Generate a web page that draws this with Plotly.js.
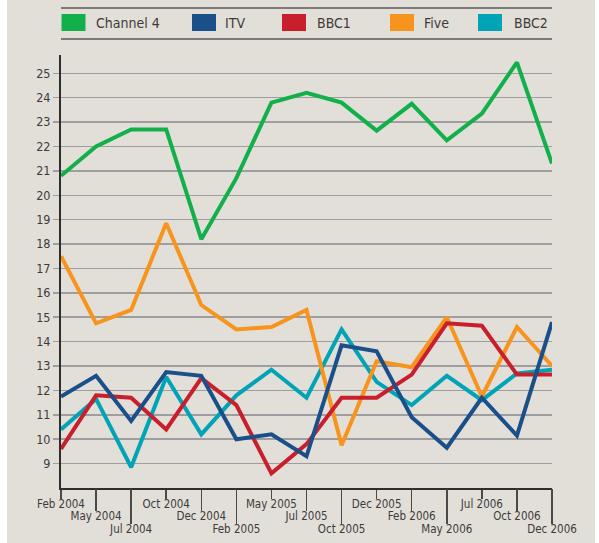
<!DOCTYPE html>
<html>
<head>
<meta charset="utf-8">
<script src="https://cdn.plot.ly/plotly-3.0.1.min.js"></script>
<style>
  html, body { margin: 0; padding: 0; background: #ffffff; }
  #chart { position: absolute; left: 7px; top: 0; width: 588px; height: 543px; }
</style>
</head>
<body>
<div id="chart"></div>
<script>
// Audience share by channel, Feb 2004 - Dec 2006
const months = ['Feb 2004', 'May 2004', 'Jul 2004', 'Oct 2004', 'Dec 2004', 'Feb 2005', 'May 2005', 'Jul 2005',
                'Oct 2005', 'Dec 2005', 'Feb 2006', 'May 2006', 'Jul 2006', 'Oct 2006', 'Dec 2006'];
const channel4 = [20.8, 22.0, 22.7, 22.7, 18.2, 20.7, 23.8, 24.2, 23.8, 22.65, 23.75, 22.25, 23.35, 25.45, 21.3];
const itv      = [11.75, 12.6, 10.75, 12.75, 12.6, 10.0, 10.2, 9.3, 13.85, 13.6, 10.9, 9.65, 11.7, 10.15, 14.8];
const bbc1     = [9.6, 11.8, 11.7, 10.4, 12.5, 11.4, 8.6, 9.8, 11.7, 11.7, 12.65, 14.75, 14.65, 12.65, 12.65];
const five     = [17.5, 14.75, 15.3, 18.85, 15.5, 14.5, 14.6, 15.3, 9.75, 13.2, 12.95, 15.0, 11.75, 14.6, 13.0];
const bbc2     = [10.4, 11.65, 8.85, 12.55, 10.2, 11.8, 12.85, 11.7, 14.5, 12.35, 11.4, 12.6, 11.6, 12.7, 12.85];
const yTicks = [9, 10, 11, 12, 13, 14, 15, 16, 17, 18, 19, 20, 21, 22, 23, 24, 25];

const seriesNames = ['Channel 4', 'ITV', 'BBC1', 'Five', 'BBC2'];
const seriesData = [channel4, itv, bbc1, five, bbc2];
const colors = ['#12b04b', '#1b4f8a', '#c91f2c', '#f7941e', '#00a4b6'];

const font = 'DejaVu Sans Condensed, Liberation Sans Narrow, sans-serif';

// plot area in page pixels (used only for the hand-made legend)
const plotLeft = 61, plotRight = 552, plotTop = 55, plotBottom = 488;
const px2x = px => (px - plotLeft) / (plotRight - plotLeft);
const px2y = py => (plotBottom - py) / (plotBottom - plotTop);

// staggered month labels: three rows, each on its own overlaid axis
const idx = months.map((m, i) => i);
const row = r => idx.filter(i => i % 3 === r);

// empty traces so the two extra label axes get drawn
let data = [
    { x: idx, y: idx.map(() => null), xaxis: 'x2', yaxis: 'y', type: 'scatter', mode: 'lines', showlegend: false, hoverinfo: 'skip' },
    { x: idx, y: idx.map(() => null), xaxis: 'x3', yaxis: 'y', type: 'scatter', mode: 'lines', showlegend: false, hoverinfo: 'skip' }
];

// draw BBC2 first so Channel 4 ends on top (matches the original layering)
for (let k = seriesNames.length - 1; k >= 0; k--) {
    data.push({
        x: months,
        y: seriesData[k],
        type: 'scatter',
        mode: 'lines',
        name: seriesNames[k],
        line: { color: colors[k], width: 4 },
        showlegend: false,
        hoverinfo: 'skip'
    });
}

function monthAxis(r, len) {
    return {
        type: 'linear',
        range: [0, months.length - 1],
        tickmode: 'array',
        tickvals: row(r),
        ticktext: row(r).map(i => months[i]),
        ticks: 'outside',
        ticklen: len,
        tickwidth: 1.5,
        tickcolor: '#4a4848',
        ticklabelstandoff: -5,
        tickfont: { family: font, size: 11.5, color: '#3d3b3b' },
        showgrid: false,
        zeroline: false,
        showline: false,
        fixedrange: true
    };
}

// legend: coloured boxes + names between two rules
const boxLeft = [61.5, 192, 282, 390, 478];
const textLeft = [94, 223, 315, 422, 512];
let shapes = [
    { type: 'line', xref: 'paper', yref: 'paper', x0: px2x(61), x1: px2x(552), y0: px2y(8), y1: px2y(8),
      line: { color: '#7c7976', width: 2 } },
    { type: 'line', xref: 'paper', yref: 'paper', x0: px2x(61), x1: px2x(552), y0: px2y(39), y1: px2y(39),
      line: { color: '#7c7976', width: 2 } }
];
let annotations = [];
seriesNames.forEach((name, k) => {
    shapes.push({
        type: 'rect', xref: 'paper', yref: 'paper',
        x0: px2x(boxLeft[k]), x1: px2x(boxLeft[k] + 24),
        y0: px2y(31), y1: px2y(14),
        fillcolor: colors[k], line: { width: 0 }
    });
    annotations.push({
        xref: 'paper', yref: 'paper', x: px2x(textLeft[k]), y: px2y(22.5),
        xanchor: 'left', yanchor: 'middle', showarrow: false,
        text: name, font: { family: font, size: 14, color: '#3d3b3b' }
    });
});

const mainX = monthAxis(0, 9);
mainX.type = 'category';
mainX.tickvals = row(0).map(i => months[i]);
mainX.showline = true;
mainX.linecolor = '#2f2d2d';
mainX.linewidth = 2;

let layout = {
    width: 588,
    height: 543,
    paper_bgcolor: '#e2dfd9',
    plot_bgcolor: '#e2dfd9',
    margin: { l: 54, r: 43, t: 55, b: 55 },
    xaxis: mainX,
    xaxis2: Object.assign(monthAxis(1, 22), { overlaying: 'x', anchor: 'y', side: 'bottom' }),
    xaxis3: Object.assign(monthAxis(2, 35), { overlaying: 'x', anchor: 'y', side: 'bottom' }),
    yaxis: {
        range: [8, 25.75],
        tickmode: 'array',
        tickvals: yTicks,
        ticks: 'outside',
        ticklen: 6,
        tickwidth: 1.5,
        tickcolor: '#9e9da0',
        tickfont: { family: font, size: 12.5, color: '#3d3b3b' },
        showgrid: true,
        gridcolor: '#9e9da0',
        gridwidth: 1.5,
        zeroline: false,
        showline: true,
        linecolor: '#2f2d2d',
        linewidth: 2,
        fixedrange: true
    },
    shapes: shapes,
    annotations: annotations,
    showlegend: false
};

Plotly.newPlot('chart', data, layout, { displayModeBar: false, staticPlot: true });
</script>
</body>
</html>
